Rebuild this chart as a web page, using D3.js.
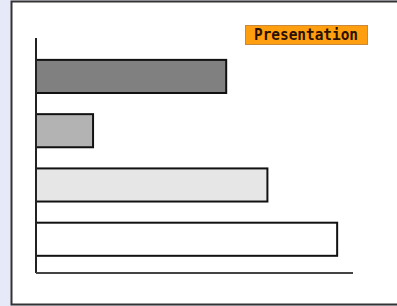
<!DOCTYPE html>
<html>
<head>
<meta charset="utf-8">
<script src="https://cdn.jsdelivr.net/npm/d3@7"></script>
<style>
  body { margin: 0; background: #e6e9f8; overflow: hidden; }
  svg { display: block; }
</style>
</head>
<body>
<div id="chart"></div>
<script>
// DATA
let CATEGORIES = ["A", "B", "C", "D"]
let VALUES = [60, 18, 73, 95]
let FILLS = ["#808080", "#b3b3b3", "#e6e6e6", "#ffffff"]
let X_MAX = 100
let BADGE_TEXT = "Presentation"

let width = 397, height = 306

let svg = d3.select("#chart")
    .append("svg")
    .attr("width", width)
    .attr("height", height)

// white panel, framed on top, left and bottom only (runs off the right edge)
svg.append("rect")
    .attr("x", 11.5)
    .attr("y", 1.5)
    .attr("width", width - 11.5)
    .attr("height", 303)
    .style("fill", "white")
svg.append("path")
    .attr("d", "M" + width + ",1.5H11.5V304.5H" + width)
    .style("fill", "none")
    .style("stroke", "#333")
    .style("stroke-width", 2)

// scales
let x = d3.scaleLinear()
    .domain([0, X_MAX])
    .range([36, 353])

let y = d3.scaleBand()
    .domain(CATEGORIES)
    .range([38, 273])
    .paddingInner(0.39)
    .paddingOuter(0.36)
    .align(0.56)

// bars
svg.selectAll("myBars")
    .data(CATEGORIES)
    .enter()
    .append("rect")
    .attr("x", x(0))
    .attr("y", function (d) { return y(d) })
    .attr("width", function (d, i) { return x(VALUES[i]) - x(0) })
    .attr("height", y.bandwidth())
    .style("fill", function (d, i) { return FILLS[i] })
    .style("stroke", "#111")
    .style("stroke-width", 2)

// axes (plain lines, no ticks)
svg.append("line")
    .attr("x1", x(0)).attr("x2", x(0))
    .attr("y1", 38).attr("y2", 273)
    .style("stroke", "#222")
    .style("stroke-width", 2)
svg.append("line")
    .attr("x1", x(0)).attr("x2", x(X_MAX))
    .attr("y1", 273).attr("y2", 273)
    .style("stroke", "#444")
    .style("stroke-width", 2)

// badge
let badge = svg.append("g").attr("transform", "translate(245,25)")
badge.append("rect")
    .attr("x", 0.5).attr("y", 0.5)
    .attr("width", 122).attr("height", 19)
    .style("fill", "#ff9f0f")
    .style("stroke", "#c88a3a")
    .style("stroke-width", 1)
badge.append("text")
    .attr("x", 9)
    .attr("y", 15)
    .attr("textLength", 104)
    .attr("lengthAdjust", "spacingAndGlyphs")
    .text(BADGE_TEXT)
    .style("font-family", "DejaVu Sans Mono")
    .style("font-weight", "bold")
    .style("font-size", "15px")
    .style("fill", "#2a1000")
</script>
</body>
</html>
